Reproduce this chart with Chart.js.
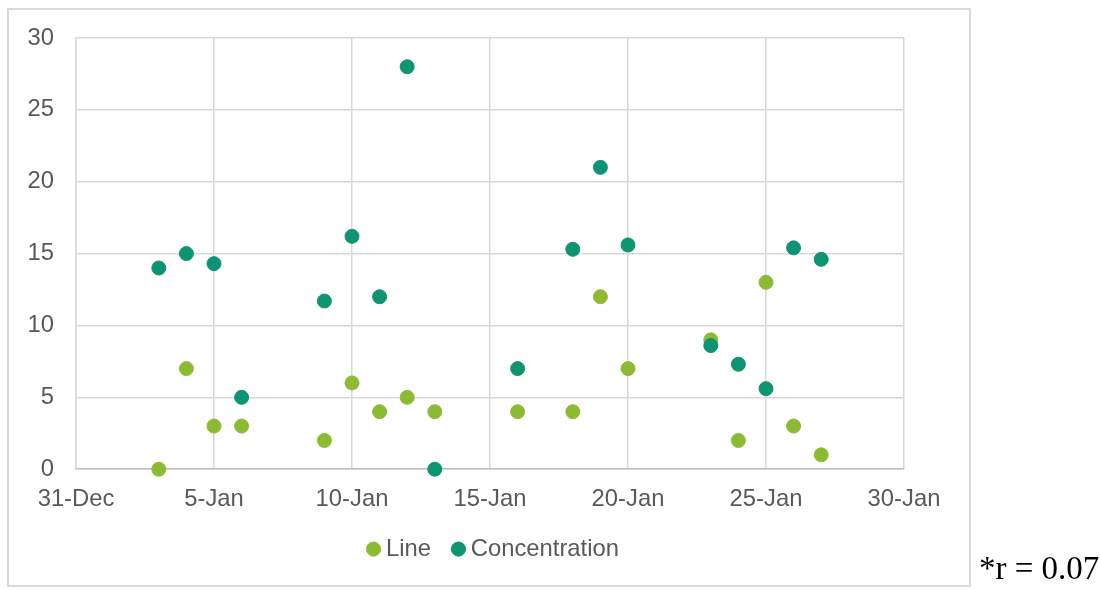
<!DOCTYPE html>
<html>
<head>
<meta charset="utf-8">
<script src="https://cdn.jsdelivr.net/npm/chart.js@4/dist/chart.umd.min.js"></script>
<style>
  html, body { margin: 0; padding: 0; background: #ffffff; }
  #stage { position: relative; width: 1100px; height: 590px; overflow: hidden; }
  #frame {
    position: absolute; left: 7px; top: 8px; width: 964px; height: 579px;
    box-sizing: border-box; border: 2px solid #D9D9D9;
  }
  #chart { position: absolute; left: 0; top: 0; }
  #note {
    position: absolute; left: 979px; top: 552px;
    font-family: "Liberation Serif", "Times New Roman", serif;
    font-size: 33px; line-height: 1; color: #000000; white-space: nowrap;
  }
</style>
</head>
<body>
<div id="stage">
  <div id="frame"></div>
  <canvas id="chart" width="1100" height="590"></canvas>
  <div id="note">*r = 0.07</div>
</div>
<script>
// Sampling days in January
const sampleDays = [3, 4, 5, 6, 9, 10, 11, 12, 13, 16, 18, 19, 20, 23, 24, 25, 26, 27];
const lineValues = [0, 7, 3, 3, 2, 6, 4, 5, 4, 4, 4, 12, 7, 9, 2, 13, 3, 1];
const concentrationValues = [14, 15, 14.3, 5, 11.7, 16.2, 12, 28, 0, 7, 15.3, 21, 15.6, 8.6, 7.3, 5.6, 15.4, 14.6];
// Axis labels, one every five days starting at 31-Dec (day 0)
const xTickLabels = ['31-Dec', '5-Jan', '10-Jan', '15-Jan', '20-Jan', '25-Jan', '30-Jan'];

const GREEN = '#8CBB33';
const TEAL = '#0E9373';
const TEXT = '#595959';
const FONT = { family: '"Liberation Sans", Arial, sans-serif', size: 23.8 };

const toPoints = (values) => sampleDays.map((d, i) => ({ x: d, y: values[i] }));

// Nudges the legend row so it sits centred under the whole frame
const legendNudge = {
  id: 'legendNudge',
  afterLayout(chart) {
    const lg = chart.legend;
    if (lg) { lg.left += 6; lg.right += 6; }
  }
};

new Chart(document.getElementById('chart'), {
  type: 'scatter',
  data: {
    datasets: [
      {
        label: 'Line',
        data: toPoints(lineValues),
        backgroundColor: GREEN,
        borderColor: GREEN,
        pointRadius: 7,
        pointBorderWidth: 1,
        clip: false,
        order: 1
      },
      {
        label: 'Concentration',
        data: toPoints(concentrationValues),
        backgroundColor: TEAL,
        borderColor: TEAL,
        pointRadius: 7,
        pointBorderWidth: 1,
        clip: false,
        order: 0
      }
    ]
  },
  plugins: [legendNudge],
  options: {
    responsive: false,
    animation: false,
    devicePixelRatio: 1,
    layout: { padding: { left: 0, top: 38, right: 196, bottom: 19 } },
    plugins: {
      tooltip: { enabled: false },
      legend: {
        position: 'bottom',
        fullSize: false,
        labels: {
          usePointStyle: true,
          pointStyle: 'circle',
          boxWidth: 1,
          boxHeight: 10,
          padding: 27,
          color: TEXT,
          font: FONT,
          sort: (a, b) => a.datasetIndex - b.datasetIndex
        }
      }
    },
    scales: {
      x: {
        type: 'linear',
        min: 0,
        max: 30,
        ticks: {
          stepSize: 5,
          color: TEXT,
          font: FONT,
          padding: 16,
          maxRotation: 0,
          callback: (v) => xTickLabels[Math.round(v / 5)]
        },
        grid: { color: '#D9D9D9', lineWidth: 1.5, drawTicks: false },
        border: { color: '#BFBFBF', width: 1.5 },
        afterFit: (s) => { s.height = 41; }
      },
      y: {
        min: 0,
        max: 30,
        ticks: { stepSize: 5, color: TEXT, font: FONT, padding: 22 },
        grid: { color: '#D9D9D9', lineWidth: 1.5, drawTicks: false },
        border: { color: '#D9D9D9', width: 1.5 },
        afterFit: (s) => { s.width = 76; }
      }
    }
  }
});
</script>
</body>
</html>
